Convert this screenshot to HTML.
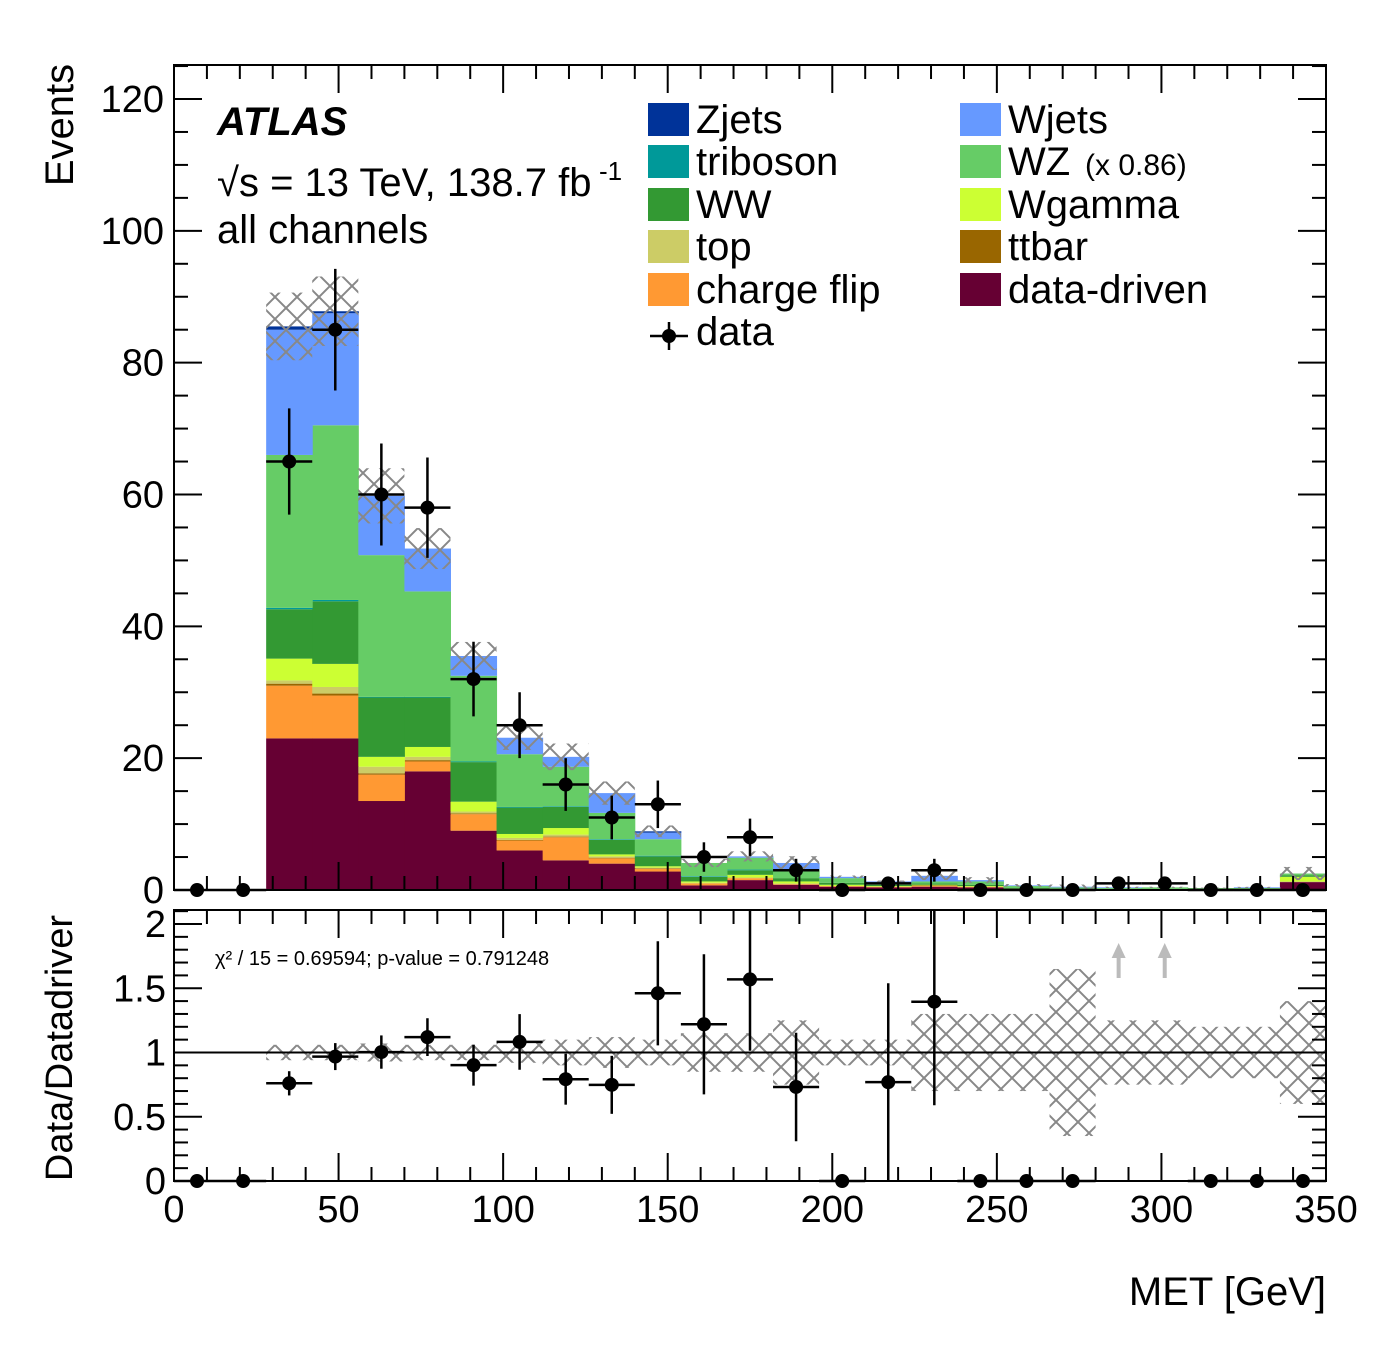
<!DOCTYPE html>
<html><head><meta charset="utf-8"><style>
html,body{margin:0;padding:0;background:#fff;}
svg text{font-family:"Liberation Sans",sans-serif;}
</style></head><body>
<svg id="c" width="1392" height="1350" viewBox="0 0 1392 1350" xmlns="http://www.w3.org/2000/svg">
<defs>
<pattern id="hatch" width="22" height="22" patternUnits="userSpaceOnUse">
<path d="M0,0 L22,22 M22,0 L0,22" stroke="#888" stroke-width="2" fill="none"/>
</pattern>
</defs>
<g id="main"></g>
<g id="ratio"></g>
<g id="legend"></g>
</svg>
<script>
const categories = Array.from({length:25},(_,i)=>i*14); // bin low edges in GeV
const dataVals = [0,0,65,85,60,58,32,25,16,11,13,5,8,3,0,1,3,0,0,0,1,1,0,0,0];
const ddVals  = [0,0,23,23,13.5,18,9,6,4.5,4,2.8,0.7,1.5,0.8,0.5,0.4,0.5,0.4,0.2,0.1,0.1,0.1,0.1,0.1,1.2];
const cfVals  = [0,0,8,6.5,4,1.5,2.5,1.5,3.5,0.8,0.4,0.3,0.3,0.1,0.1,0.1,0.1,0.1,0,0,0,0,0,0,0];
const ttVals  = [0,0,0.3,0.3,0.2,0.2,0.1,0.1,0.1,0.1,0.1,0,0,0,0,0,0.1,0,0,0,0,0,0,0,0];
const topVals = [0,0,0.5,1,1,0.5,0.3,0.3,0.3,0.2,0.1,0.1,0.1,0.1,0,0,0,0,0,0,0,0,0,0,0.1];
const wgVals  = [0,0,3.3,3.5,1.5,1.5,1.5,0.6,1,0.3,0.2,0.2,0.4,0.3,0.2,0.1,0.1,0.1,0,0,0,0,0,0,0.7];
const wwVals  = [0,0,7.5,9.5,9,7.5,6,4,3.2,2.2,1.5,0.7,0.7,0.5,0.3,0.2,0.2,0.2,0.1,0.1,0.1,0.1,0.1,0.1,0.2];
const triVals = [0,0,0.2,0.2,0.1,0.1,0.1,0.1,0.1,0.1,0.1,0.1,0.1,0,0,0,0,0,0,0,0,0,0,0,0];
const wzVals  = [0,0,23.2,26.5,21.5,16,13,8,6,4,2.5,2,1.8,1.3,0.7,0.3,0.3,0.5,0.3,0.2,0.1,0.2,0.1,0.1,0.3];
const wjVals  = [0,0,19,17,9,6.5,3,2.5,1.5,3,1,0,0.2,1,0.2,0.2,0.85,0.2,0.1,0.1,0.1,0,0,0.1,0];
const zjVals  = [0,0,0.5,0.3,0,0,0,0,0,0,0.2,0,0,0,0,0,0,0,0,0,0,0,0,0,0];
const relUnc  = [0,0,.06,.06,.07,.06,.06,.08,.1,.12,.1,.15,.15,.25,.1,.1,.3,.3,.3,.65,.25,.25,.2,.2,.4];
const xTicks = [0,50,100,150,200,250,300,350];
const yTicks = [0,20,40,60,80,100,120];
const rTicks = [0,0.5,1,1.5,2];
const rTickLabels = ["0","0.5","1","1.5","2"];
const binW = 14;

const NS="http://www.w3.org/2000/svg";
function mk(parent,tag,attrs,txt){const e=document.createElementNS(NS,tag);for(const k in attrs)e.setAttribute(k,attrs[k]);if(txt!==undefined)e.textContent=txt;parent.appendChild(e);return e;}
const X0=174,X1=1326;
const xs=v=>X0+(v/350)*(X1-X0);
const Y0=890, YT=65, yMax=(890-65)/((890-99)/120);
const ys=v=>Y0-(v/yMax)*(Y0-YT);
const R0=1181, RT=910, rPer=128.5;
const rs=v=>R0-v*rPer;

const main=document.getElementById('main');
const stacks=[
 {n:'data-driven',v:ddVals,c:'#660033'},
 {n:'charge-flip',v:cfVals,c:'#ff9933'},
 {n:'ttbar',v:ttVals,c:'#996600'},
 {n:'top',v:topVals,c:'#cccc66'},
 {n:'wgamma',v:wgVals,c:'#ccff33'},
 {n:'ww',v:wwVals,c:'#339933'},
 {n:'triboson',v:triVals,c:'#009999'},
 {n:'wz',v:wzVals,c:'#66cc66'},
 {n:'wjets',v:wjVals,c:'#6699ff'},
 {n:'zjets',v:zjVals,c:'#003399'}];
const total=categories.map(()=>0);
stacks.forEach(s=>{
  categories.forEach((lo,i)=>{
    const b=total[i], t=b+s.v[i];
    if(s.v[i]>0){
      const r=mk(main,'rect',{x:xs(lo),y:ys(t),width:xs(lo+binW)-xs(lo)+0.5,height:ys(b)-ys(t),fill:s.c});
      
      
    }
    total[i]=t;
  });
});
categories.forEach((lo,i)=>{
  if(total[i]<=0)return;
  const hi=total[i]*(1+relUnc[i]), lw=total[i]*(1-relUnc[i]);
  const r=mk(main,'rect',{x:xs(lo),y:ys(hi),width:xs(lo+binW)-xs(lo),height:ys(lw)-ys(hi),fill:'url(#hatch)'});
  
  
});
function frame(g,top,bot,name){
  const r=mk(g,'rect',{x:X0,y:top,width:X1-X0,height:bot-top,fill:'none',stroke:'#000','stroke-width':2});
  
}
frame(main,YT,Y0,'main-plot-frame');
function xTickMarks(g,top,bot){
  for(let v=0;v<=350;v+=10){
    const major=v%50===0, L=major?28:14, x=xs(v);
    mk(g,'line',{x1:x,x2:x,y1:bot,y2:bot-L,stroke:'#000','stroke-width':2});
    mk(g,'line',{x1:x,x2:x,y1:top,y2:top+L,stroke:'#000','stroke-width':2});
  }
}
xTickMarks(main,YT,Y0);
for(let v=0;v<=yMax;v+=5){
  const major=v%20===0,L=major?28:14,y=ys(v);
  mk(main,'line',{x1:X0,x2:X0+L,y1:y,y2:y,stroke:'#000','stroke-width':2});
  mk(main,'line',{x1:X1,x2:X1-L,y1:y,y2:y,stroke:'#000','stroke-width':2});
}
yTicks.forEach(v=>{const t=mk(main,'text',{x:164,y:ys(v)+13,'text-anchor':'end','font-size':38},String(v));
 });
categories.forEach((lo,i)=>{
  const cx=xs(lo+binW/2), cy=ys(dataVals[i]), e=Math.sqrt(dataVals[i]);
  const g=mk(main,'g',{});
  
  
  mk(g,'line',{x1:xs(lo),x2:xs(lo+binW),y1:cy,y2:cy,stroke:'#000','stroke-width':2.5});
  if(e>0)mk(g,'line',{x1:cx,x2:cx,y1:ys(dataVals[i]+e),y2:ys(dataVals[i]-e),stroke:'#000','stroke-width':2.5});
  mk(g,'circle',{cx:cx,cy:cy,r:7,fill:'#000'});
});
let t;
t=mk(main,'text',{x:73,y:125,'font-size':40,'text-anchor':'middle',transform:'rotate(-90 73 125)'},'Events');

t=mk(main,'text',{x:217,y:135,'font-size':40,'font-weight':'bold','font-style':'italic'},'ATLAS');

t=mk(main,'text',{x:217,y:196,'font-size':40},'√s = 13 TeV, 138.7 fb');

mk(main,'text',{x:599,y:180,'font-size':26},'-1');
t=mk(main,'text',{x:217,y:243,'font-size':40},'all channels');


const leg=document.getElementById('legend');
const legItems=[['Zjets','#003399',648,120],['triboson','#009999',648,162],['WW','#339933',648,205],['top','#cccc66',648,247],['charge flip','#ff9933',648,290],
['Wjets','#6699ff',960,120],['WZ','#66cc66',960,162],['Wgamma','#ccff33',960,205],['ttbar','#996600',960,247],['data-driven','#660033',960,290]];
legItems.forEach(([n,c,x,y])=>{
  const g=mk(leg,'g',{});
  
  
  mk(g,'rect',{x:x,y:y-17,width:41,height:33,fill:c});
  mk(g,'text',{x:x+48,y:y+13,'font-size':40},n);
});
mk(leg,'text',{x:1085,y:175,'font-size':30},'(x 0.86)');
{const g=mk(leg,'g',{});
mk(g,'line',{x1:650,x2:688,y1:336,y2:336,stroke:'#000','stroke-width':2.5});
mk(g,'line',{x1:669,x2:669,y1:322,y2:350,stroke:'#000','stroke-width':2.5});
mk(g,'circle',{cx:669,cy:336,r:7,fill:'#000'});
mk(g,'text',{x:696,y:345,'font-size':40},'data');}

const rg=document.getElementById('ratio');
categories.forEach((lo,i)=>{
  if(total[i]<=0)return;
  const r=mk(rg,'rect',{x:xs(lo),y:rs(1+relUnc[i]),width:xs(lo+binW)-xs(lo),height:rs(1-relUnc[i])-rs(1+relUnc[i]),fill:'url(#hatch)'});
  
  
});
mk(rg,'line',{x1:X0,x2:X1,y1:rs(1),y2:rs(1),stroke:'#000','stroke-width':2});
frame(rg,RT,R0,'ratio-plot-frame');
xTickMarks(rg,RT,R0);
for(let k=0;k<=21;k++){
  const v=k/10,major=k%5===0,L=major?28:14,y=rs(v);
  if(y<RT)continue;
  mk(rg,'line',{x1:X0,x2:X0+L,y1:y,y2:y,stroke:'#000','stroke-width':2});
  mk(rg,'line',{x1:X1,x2:X1-L,y1:y,y2:y,stroke:'#000','stroke-width':2});
}
rTicks.forEach((v,k)=>{const tt=mk(rg,'text',{x:166,y:rs(v)+13,'text-anchor':'end','font-size':38},rTickLabels[k]);
 });
const rMax=2.0;
categories.forEach((lo,i)=>{
  const cx=xs(lo+binW/2);
  const g=mk(rg,'g',{});
  
  
  const ratio= total[i]>0 ? dataVals[i]/total[i] : 0;
  if(ratio>=rMax){
    mk(g,'line',{x1:cx,x2:cx,y1:978,y2:955,stroke:'#bbb','stroke-width':4});
    mk(g,'polygon',{points:`${cx-7},${958} ${cx+7},${958} ${cx},${943}`,fill:'#bbb'});
    return;
  }
  const cy=rs(ratio);
  const e= total[i]>0? Math.sqrt(dataVals[i])/total[i]:0;
  mk(g,'line',{x1:xs(lo),x2:xs(lo+binW),y1:cy,y2:cy,stroke:'#000','stroke-width':2.5});
  if(e>0)mk(g,'line',{x1:cx,x2:cx,y1:Math.max(RT,rs(ratio+e)),y2:Math.min(R0,rs(ratio-e)),stroke:'#000','stroke-width':2.5});
  mk(g,'circle',{cx:cx,cy:cy,r:7,fill:'#000'});
});
t=mk(rg,'text',{x:215,y:965,'font-size':20},'χ² / 15 = 0.69594; p-value = 0.791248');

t=mk(rg,'text',{x:72,y:1048,'font-size':38,'text-anchor':'middle',transform:'rotate(-90 72 1048)'},'Data/Datadriver');

xTicks.forEach(v=>{const tt=mk(rg,'text',{x:xs(v),y:1222,'text-anchor':'middle','font-size':38},String(v));
 });
t=mk(rg,'text',{x:1326,y:1305,'font-size':40,'text-anchor':'end'},'MET [GeV]');

</script>
</body></html>
